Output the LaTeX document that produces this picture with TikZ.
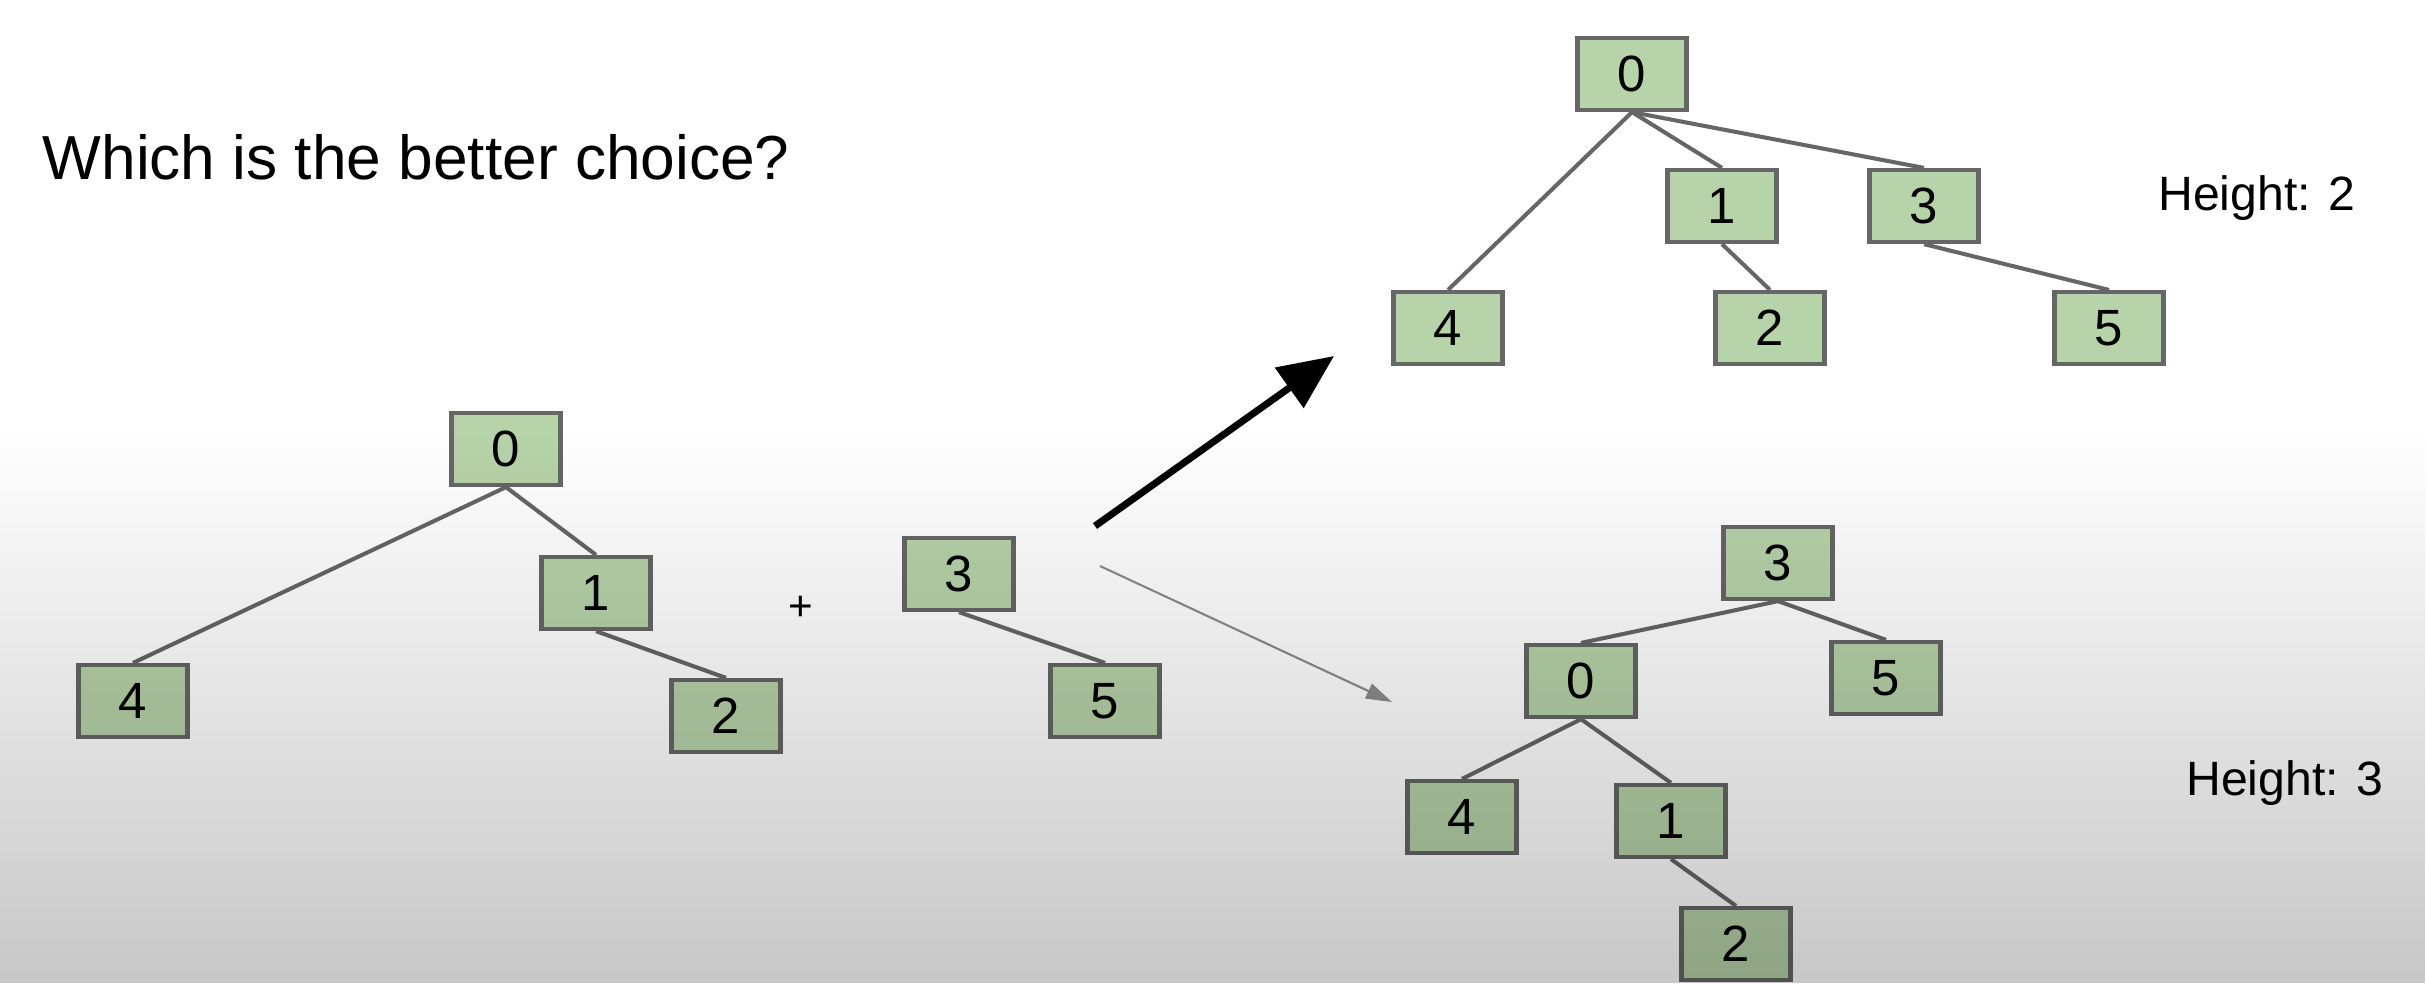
\documentclass[tikz,border=0pt]{standalone}
\usepackage{fontspec}
\setmainfont{Liberation Sans}
\usetikzlibrary{arrows.meta,fadings}
\definecolor{boxgreen}{HTML}{B7D3A9}
\definecolor{edgegray}{HTML}{666666}
\definecolor{thingray}{HTML}{8C8C8C}
\tikzfading[name=dimdown, top color=transparent!100, bottom color=transparent!0]

\begin{document}
\begin{tikzpicture}[
    treenode/.style={draw=edgegray, line width=1.2pt, fill=boxgreen, minimum width=1.09cm, minimum height=0.72cm, inner sep=0pt, font=\fontsize{14.5}{16}\selectfont},
    treeedge/.style={draw=edgegray, line width=1.15pt},
    heightlabel/.style={inner sep=0pt, font=\fontsize{13.7}{16}\selectfont}
]
    % Fix the frame
    \useasboundingbox (0,0) rectangle (24.26,-9.83);

    % Title
    \node[anchor=base west, inner sep=0pt, font=\fontsize{17.7}{20}\selectfont] (title) at (0.42,-1.79) {Which is the better choice?};

    % Left tree and the single tree to add
    \node[treenode] (l0) at (5.06,-4.49) {0};
    \node[treenode] (l1) at (5.96,-5.93) {1};
    \node[treenode] (l4) at (1.33,-7.01) {4};
    \node[treenode] (l2) at (7.26,-7.16) {2};
    \node[inner sep=0pt, font=\fontsize{12}{14}\selectfont] (plus) at (8.01,-6.08) {+};
    \node[treenode] (m3) at (9.59,-5.74) {3};
    \node[treenode] (m5) at (11.05,-7.01) {5};

    % Upper result
    \node[treenode] (t0) at (16.32,-0.74) {0};
    \node[treenode] (t1) at (17.22,-2.06) {1};
    \node[treenode] (t3) at (19.24,-2.06) {3};
    \node[treenode] (t4) at (14.48,-3.28) {4};
    \node[treenode] (t2) at (17.70,-3.28) {2};
    \node[treenode] (t5) at (21.09,-3.28) {5};
    \node[heightlabel] (h2) at (22.57,-1.98) {Height: 2};

    % Lower result
    \node[treenode] (b3) at (17.78,-5.63) {3};
    \node[treenode] (b0) at (15.81,-6.81) {0};
    \node[treenode] (b5) at (18.86,-6.78) {5};
    \node[treenode] (b4) at (14.62,-8.17) {4};
    \node[treenode] (b1) at (16.71,-8.21) {1};
    \node[treenode] (b2) at (17.36,-9.44) {2};
    \node[heightlabel] (h3) at (22.85,-7.83) {Height: 3};

    % Draw the edges
    \foreach \a/\b in {l0/l4, l0/l1, l1/l2, m3/m5, t0/t4, t0/t1, t0/t3, t1/t2, t3/t5, b3/b0, b3/b5, b0/b4, b0/b1, b1/b2}
        \draw[treeedge] (\a.south) -- (\b.north);

    % Arrows to the two choices
    \coordinate (goodfrom) at (10.95,-5.26);
    \coordinate (goodto) at (13.34,-3.56);
    \coordinate (poorfrom) at (11.00,-5.66);
    \coordinate (poorto) at (13.92,-7.02);
    \draw[line width=2pt, -{Triangle[length=5.5mm, width=4.8mm]}] (goodfrom) -- (goodto);
    \draw[thingray, line width=0.6pt, -{Triangle[length=2.6mm, width=1.6mm]}] (poorfrom) -- (poorto);

    % Darken the lower part
    \fill[black, fill opacity=0.22, path fading=dimdown] (0,-4.3) rectangle (24.26,-9.83);
\end{tikzpicture}
\end{document}
